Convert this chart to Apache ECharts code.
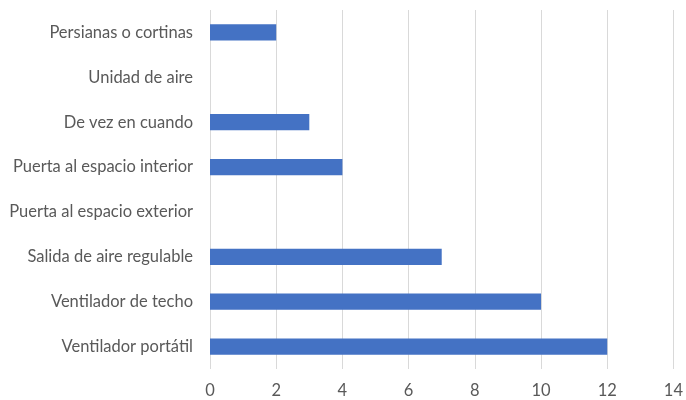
<!DOCTYPE html>
<html>
<head>
<meta charset="utf-8">
<script src="https://cdn.jsdelivr.net/npm/echarts@6/dist/echarts.min.js"></script>
<style>
  html, body { margin: 0; padding: 0; background: #fff; }
  #chart { width: 686px; height: 400px; }
</style>
</head>
<body>
<div id="chart"></div>
<script>
// Categories listed bottom-to-top (category axis on y starts at the bottom)
const categories = [
  'Ventilador portátil',
  'Ventilador de techo',
  'Salida de aire regulable',
  'Puerta al espacio exterior',
  'Puerta al espacio interior',
  'De vez en cuando',
  'Unidad de aire',
  'Persianas o cortinas'
];
const values = [12, 10, 7, 0, 4, 3, 0, 2];
const xTicks = [0, 2, 4, 6, 8, 10, 12, 14];

const chart = echarts.init(document.getElementById('chart'), null, { renderer: 'canvas' });
const font = 'Lato, "Open Sans", "Liberation Sans", sans-serif';

chart.setOption({
  animation: false,
  grid: { left: 210, right: 11, top: 10, bottom: 31, containLabel: false },
  xAxis: {
    type: 'value',
    min: xTicks[0],
    max: xTicks[xTicks.length - 1],
    interval: 2,
    axisLine: { show: false },
    axisTick: { show: false },
    splitLine: { show: true, lineStyle: { color: '#d9d9d9', width: 1 } },
    axisLabel: { color: '#595959', fontSize: 16.5, fontFamily: font, margin: 13 }
  },
  yAxis: {
    type: 'category',
    data: categories,
    axisLine: { show: false },
    axisTick: { show: false },
    axisLabel: { color: '#595959', fontSize: 16.5, fontFamily: font, margin: 17 }
  },
  series: [{
    type: 'bar',
    data: values,
    barWidth: '36%',
    itemStyle: { color: '#4472C4', borderWidth: 0 }
  }]
});
</script>
</body>
</html>
